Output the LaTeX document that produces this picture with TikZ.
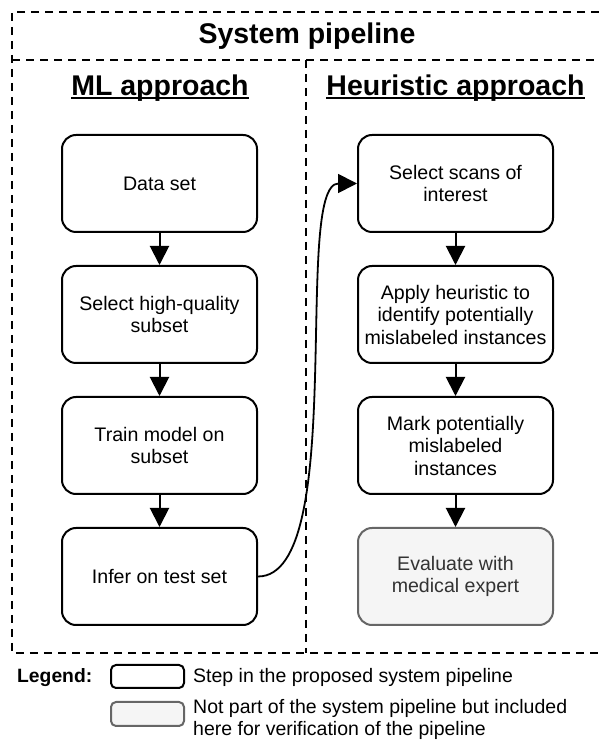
\documentclass[tikz,border=0pt]{standalone}
\usepackage{fontspec}
\setmainfont{Liberation Sans}
\usetikzlibrary{positioning, arrows.meta}
\definecolor{stepgray}{HTML}{F5F5F5}
\definecolor{edgegray}{HTML}{666666}
\definecolor{textgray}{HTML}{333333}
\tikzset{
    stepbox/.style={draw, line width=2pt, rounded corners=14pt, minimum width=195pt, minimum height=97pt, inner sep=2pt, align=center, font=\fontsize{19.6}{22.5}\selectfont},
    extbox/.style={stepbox, draw=edgegray, fill=stepgray, text=textgray},
    keybox/.style={draw, line width=2pt, rounded corners=5pt, minimum width=73pt, minimum height=23pt},
    frame/.style={line width=1.8pt, dash pattern=on 8pt off 6pt},
    heading/.style={inner sep=0pt, font=\bfseries\fontsize{28.5}{34}\selectfont},
    keytext/.style={inner sep=0pt, align=left, font=\fontsize{19.5}{22}\selectfont},
    flow/.style={->, >={Triangle[width=19pt,length=19pt]}, line width=2pt}
}
\begin{document}
\begin{tikzpicture}[x=1pt, y=1pt, node distance=32pt]
    \useasboundingbox (0,0) rectangle (599,742);
    \draw [frame] (599,730) -- (12,730) -- (12,89) -- (599,89);
    \draw [frame] (12,682) -- (599,682);
    \draw [frame] (306,682) -- (306,89);
    \node (title) at (307,698) [heading, anchor=base] {System pipeline};
    \node (mlhead) at (160,646) [heading, anchor=base] {ML approach};
    \node (heurhead) at (455.5,646) [heading, anchor=base] {Heuristic approach};
    \draw [line width=2pt] ([yshift=-2pt]mlhead.base west) -- ([yshift=-2pt]mlhead.base east);
    \draw [line width=2pt] ([yshift=-2pt]heurhead.base west) -- ([yshift=-2pt]heurhead.base east);
    \node (dataset) at (159.5,558.5) [stepbox] {Data set};
    \node (subset) [stepbox, below=of dataset] {Select high-quality\\subset};
    \node (train) [stepbox, below=of subset] {Train model on\\subset};
    \node (infer) [stepbox, below=of train] {Infer on test set};
    \node (scans) at (455.5,558.5) [stepbox] {Select scans of\\interest};
    \node (heur) [stepbox, below=of scans] {Apply heuristic to\\identify potentially\\mislabeled instances};
    \node (mark) [stepbox, below=of heur] {Mark potentially\\mislabeled\\instances};
    \node (expert) [extbox, below=of mark] {Evaluate with\\medical expert};
    \draw [flow] (dataset) -- (subset);
    \draw [flow] (subset) -- (train);
    \draw [flow] (train) -- (infer);
    \draw [flow] (scans) -- (heur);
    \draw [flow] (heur) -- (mark);
    \draw [flow] (mark) -- (expert);
    \draw [flow, line width=1.8pt] (infer.east) .. controls +(91,0) and +(-65,0) .. (scans.west);
    \node (legend) at (17,59) [keytext, anchor=base west, font=\bfseries\fontsize{19.3}{22}\selectfont] {Legend:};
    \node (keystep) at (147.5,65.5) [keybox] {};
    \node (keyext) at (147.5,28) [keybox, minimum height=24pt, draw=edgegray, fill=stepgray] {};
    \node (steptext) at (193,59) [keytext, anchor=base west] {Step in the proposed system pipeline};
    \node (exttext) at (193,23) [keytext, anchor=west] {Not part of the system pipeline but included\\here for verification of the pipeline};
\end{tikzpicture}
\end{document}
